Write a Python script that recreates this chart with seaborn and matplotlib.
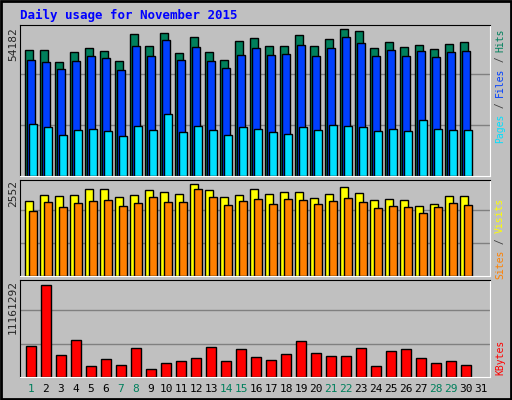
import numpy as np
import seaborn as sns
import matplotlib.pyplot as plt

days = list(range(1, 32))
weekend = [1, 7, 8, 14, 15, 21, 22, 28, 29]

hits = [46300, 46300, 41990, 45690, 47160, 45930, 42360, 52340, 47780, 52700,
        45320, 51230, 45690, 42730, 49750, 50860, 47780, 47780, 51970, 47780,
        50490, 54182, 53440, 47040, 49380, 47530, 48270, 46790, 48640, 49380]
files = [42730, 41990, 39400, 42360, 44210, 43470, 39030, 47900, 44210, 50120,
         42730, 47530, 42360, 39770, 44580, 47160, 44580, 44950, 48270, 44210,
         47160, 51230, 49010, 44210, 46420, 44210, 46050, 43840, 45690, 46050]
pages = [19090, 17980, 15020, 16870, 17240, 16500, 14650, 18350, 16870, 22780,
         16130, 18350, 16870, 15020, 17980, 17240, 16130, 15390, 17980, 16870,
         18720, 18350, 17980, 16500, 17240, 16500, 20560, 17240, 16870, 16870]
visits = [2080, 2247, 2219, 2247, 2413, 2413, 2191, 2247, 2385, 2330,
          2275, 2552, 2385, 2191, 2247, 2413, 2275, 2330, 2330, 2164,
          2275, 2469, 2302, 2108, 2136, 2108, 1942, 1997, 2219, 2219]
sites = [1803, 2053, 1914, 2025, 2080, 2108, 1942, 2025, 2191, 2053,
         2053, 2413, 2191, 1969, 2080, 2136, 1997, 2136, 2108, 1997,
         2080, 2164, 2053, 1886, 1942, 1914, 1747, 1914, 2025, 1969]
kbytes = [3706900, 11161292, 2729200, 4440100, 1385000, 2240400, 1507200, 3462500, 1018400, 1751600,
          1996000, 2362600, 3584700, 1996000, 3340300, 2484800, 2118200, 2851500, 4317900, 2973700,
          2607000, 2607000, 3462500, 1385000, 3095900, 3340300, 2362600, 1751600, 1996000, 1507200]

sns.set_style("white")
plt.rcParams['font.family'] = ['DejaVu Sans Mono']
BG = '#c0c0c0'

fig = plt.figure(figsize=(5.12, 4.0), dpi=100, facecolor=BG)
fig.patches.append(plt.Rectangle((0.002, 0.002), 0.996, 0.996, transform=fig.transFigure,
                                 fill=False, edgecolor='black', lw=2))
W, H = 512, 400


def make_ax(top, bottom):
    ax = fig.add_axes([20 / W, 1 - bottom / H, 470 / W, (bottom - top) / H])
    ax.set_facecolor(BG)
    for s in ax.spines.values():
        s.set_color('black')
    ax.spines['right'].set_color('white')
    ax.spines['bottom'].set_color('white')
    ax.set_xlim(-0.33, 31)
    ax.set_xticks([])
    ax.set_yticks([])
    return ax


x = np.arange(len(hits)) + 0.0
bar = dict(align='edge', edgecolor='black', linewidth=1)

# hits / files / pages
ax1 = make_ax(25, 176)
ax1.set_ylim(0, 54182 * 151 / 147)
for g in (1, 2):
    ax1.axhline(54182 * g * 51 / 147, color='#808080', lw=1, zorder=0)
ax1.bar(x, hits, width=0.53, color='#00805c', **bar)
ax1.bar(x + 0.14, files, width=0.53, color='#0040ff', **bar)
ax1.bar(x + 0.27, pages, width=0.53, color='#00e0ff', **bar)
ax1.text(-0.004, 54182 * 149 / 147, '54182', rotation=90, ha='right', va='top',
         transform=ax1.get_yaxis_transform(), fontsize=8)

# visits / sites
ax2 = make_ax(180, 276)
ax2.set_ylim(0, 2552 * 96 / 92)
for g in (1, 2):
    ax2.axhline(2552 * g * 33 / 92, color='#808080', lw=1, zorder=0)
ax2.bar(x, visits, width=0.53, color='#ffff00', **bar)
ax2.bar(x + 0.27, sites, width=0.5, color='#ff8000', **bar)
ax2.text(-0.004, 2552 * 96 / 92, '2552', rotation=90, ha='right', va='top',
         transform=ax2.get_yaxis_transform(), fontsize=8)

# kbytes
ax3 = make_ax(280, 377)
ax3.set_ylim(0, 11161292 * 96 / 91)
for g in (1, 2):
    ax3.axhline(11161292 * g * 33 / 91, color='#808080', lw=1, zorder=0)
ax3.bar(x + 0.07, kbytes, width=0.67, color='#ff0000', **bar)
ax3.text(-0.004, 11161292 * 96 / 91, '11161292', rotation=90, ha='right', va='top',
         transform=ax3.get_yaxis_transform(), fontsize=8)

for i, d in enumerate(days):
    ax3.text(i + 0.4, -0.12, str(d), ha='center', va='center', fontsize=8,
             transform=ax3.get_xaxis_transform(),
             color='#00805c' if d in weekend else 'black')

fig.text(20 / W, 1 - 15 / H, 'Daily usage for November 2015', color='#0000ff',
         fontsize=9, fontweight='bold', va='center')


def side_label(parts, ytop):
    # stack coloured pieces from the top edge downwards, read bottom to top
    ch = 5.7
    y = ytop
    for p, c in reversed(parts):
        fig.text(500 / W, 1 - y / H, p, rotation=90, color=c, fontsize=7,
                 ha='center', va='top')
        y += len(p) * ch


side_label([('Pages', '#00e0ff'), (' / ', '#404040'), ('Files', '#0040ff'),
            (' / ', '#404040'), ('Hits', '#00805c')], 28)
side_label([('Sites', '#ff8000'), (' / ', '#404040'), ('Visits', '#ffff00')], 198)
side_label([('KBytes', '#ff0000')], 340)

fig.savefig('out.png', dpi=100, facecolor=BG)
